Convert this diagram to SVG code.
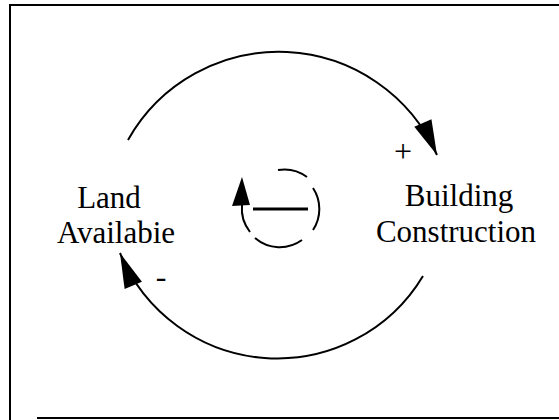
<svg xmlns="http://www.w3.org/2000/svg" width="559" height="420" viewBox="0 0 559 420">
<defs>
<style>
.lbl{font-family:"Liberation Serif","Times New Roman",serif;font-size:31px;fill:#000;text-anchor:middle}
.pol{font-family:"Liberation Serif","Times New Roman",serif;font-size:32px;fill:#000;text-anchor:middle}
.link{fill:none;stroke:#000;stroke-width:2}
.frame{fill:none;stroke:#000;stroke-width:2}
</style>
<marker id="ah" markerUnits="userSpaceOnUse" markerWidth="40" markerHeight="40" viewBox="-30 -10 32 20" refX="0" refY="0" orient="auto">
<path d="M0,0 L-28,-7.5 L-28,7.5 Z" fill="#000"/>
</marker>
</defs>
<rect width="559" height="420" fill="#fff"/>
<g id="frame" class="frame">
<line x1="10" y1="5" x2="559" y2="5"/>
<line x1="10" y1="4" x2="10" y2="420"/>
<line x1="37" y1="418" x2="559" y2="418"/>
</g>
<g id="connectors">
<path class="link" d="M128,140 A173,173 0 0,1 437,155" marker-end="url(#ah)"/>
<path class="link" d="M423,276 A170,170 0 0,1 120,253" marker-end="url(#ah)"/>
<text class="pol" x="403" y="162">+</text>
<text class="pol" x="161" y="287">-</text>
</g>
<g id="land-available">
<text class="lbl" x="109" y="208">Land</text>
<text class="lbl" x="116" y="243">Availabie</text>
</g>
<g id="building-construction">
<text class="lbl" x="459" y="206">Building</text>
<text class="lbl" x="456" y="242">Construction</text>
</g>
<g id="loop-symbol" fill="none" stroke="#000" stroke-width="2">
<path d="M278,170 A38,38 0 0,1 307,177"/>
<path d="M313,188 A38,38 0 0,1 313,230"/>
<path d="M302,240 A38,38 0 0,1 255,238"/>
<path d="M250,232 A38,38 0 0,1 242,205"/>
<path d="M242,177 L232,206 L250,205 Z" fill="#000" stroke="none"/>
<line x1="253" y1="209" x2="308" y2="209" stroke-width="3"/>
</g>
</svg>
